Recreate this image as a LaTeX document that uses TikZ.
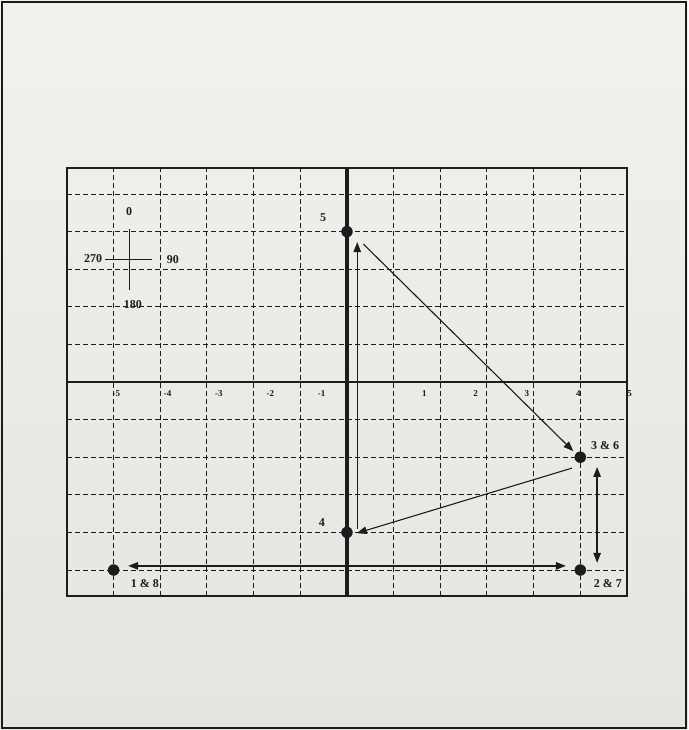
\documentclass[tikz,border=0pt]{standalone}
\usepackage{fontspec}
\setmainfont{Liberation Serif}
\usetikzlibrary{arrows.meta,positioning}
\definecolor{papertop}{RGB}{241,242,238}
\definecolor{paperbot}{RGB}{227,229,224}
\definecolor{ink}{RGB}{28,28,28}

\begin{document}
\begin{tikzpicture}[x=46.67pt, y=37.6pt, >={Triangle[length=10pt,width=7.5pt]},
		dot/.style={circle, fill=ink, inner sep=0pt, minimum size=11.5pt},
		ptlabel/.style={font=\bfseries\fontsize{12}{13}\selectfont, text=ink, inner sep=0pt},
		ticklabel/.style={font=\bfseries\fontsize{9}{10}\selectfont, text=ink, inner sep=0pt},
		gridline/.style={ink, line width=1pt, dash pattern=on 5pt off 3pt},
		move/.style={->, ink, line width=1.1pt}]
		\useasboundingbox (-7.435,-9.255) rectangle (7.307,10.16);
		\shade[top color=papertop, bottom color=paperbot] (-7.435,-9.255) rectangle (7.307,10.16);
		\draw[ink, line width=1.6pt] (-7.39,-9.20) rectangle (7.26,10.11);

		% dashed grid
		\foreach \i in {-5,...,-1,1,2,...,5} {
			\draw[gridline] (\i,-5.7) -- (\i,5.7);
			\draw[gridline] (-6,\i) -- (6,\i);
		}
		\draw[ink, line width=3.5pt] (0,-5.7) -- (0,5.7);
		\draw[ink, line width=2pt] (-6,0) -- (6,0);
		\draw[ink, line width=1.8pt] (-6,-5.7) rectangle (6,5.7);

		% axis numbers
		\foreach \n in {-5,...,-1,1,2,...,5} {
			\node[ticklabel] (t\n) at ({0.557+1.1*\n},-0.3) {\n};
		}

		% compass
		\coordinate (cN) at (-4.67,4.07);
		\coordinate (cS) at (-4.67,2.45);
		\coordinate (cW) at (-5.18,3.27);
		\coordinate (cE) at (-4.18,3.27);
		\draw[ink, line width=0.8pt] (cN) -- (cS);
		\draw[ink, line width=0.8pt] (cW) -- (cE);
		\node[ptlabel] (c0) at (-4.67,4.52) {0};
		\node[ptlabel] (c90) at (-3.73,3.25) {90};
		\node[ptlabel] (c180) at (-4.59,2.07) {180};
		\node[ptlabel] (c270) at (-5.44,3.27) {270};

		% positions
		\node[dot] (p5) at (0,4) {};
		\node[dot] (p36) at (5,-2) {};
		\node[dot] (p4) at (0,-4) {};
		\node[dot] (p18) at (-5,-5) {};
		\node[dot] (p27) at (5,-5) {};

		\node[ptlabel] (l5) at (-0.51,4.36) {5};
		\node[ptlabel] (l36) at (5.53,-1.70) {3 \& 6};
		\node[ptlabel] (l4) at (-0.54,-3.75) {4};
		\node[ptlabel] (l18) at (-4.33,-5.35) {1 \& 8};
		\node[ptlabel] (l27) at (5.59,-5.35) {2 \& 7};

		% moves
		\coordinate (up0) at (0.22,-3.9);
		\coordinate (up1) at (0.22,3.72);
		\coordinate (dg0) at (0.35,3.67);
		\coordinate (dg1) at (4.85,-1.84);
		\coordinate (bk0) at (4.82,-2.29);
		\coordinate (bk1) at (0.21,-4.02);
		\coordinate (vt0) at (5.36,-2.26);
		\coordinate (vt1) at (5.36,-4.81);
		\coordinate (hz0) at (-4.69,-4.89);
		\coordinate (hz1) at (4.69,-4.89);

		\draw[move] (up0) -- (up1);
		\draw[move] (dg0) -- (dg1);
		\draw[move] (bk0) -- (bk1);
		\draw[move, <->, line width=1.3pt] (vt0) -- (vt1);
		\draw[move, <->, line width=1.4pt] (hz0) -- (hz1);
	\end{tikzpicture}
\end{document}
